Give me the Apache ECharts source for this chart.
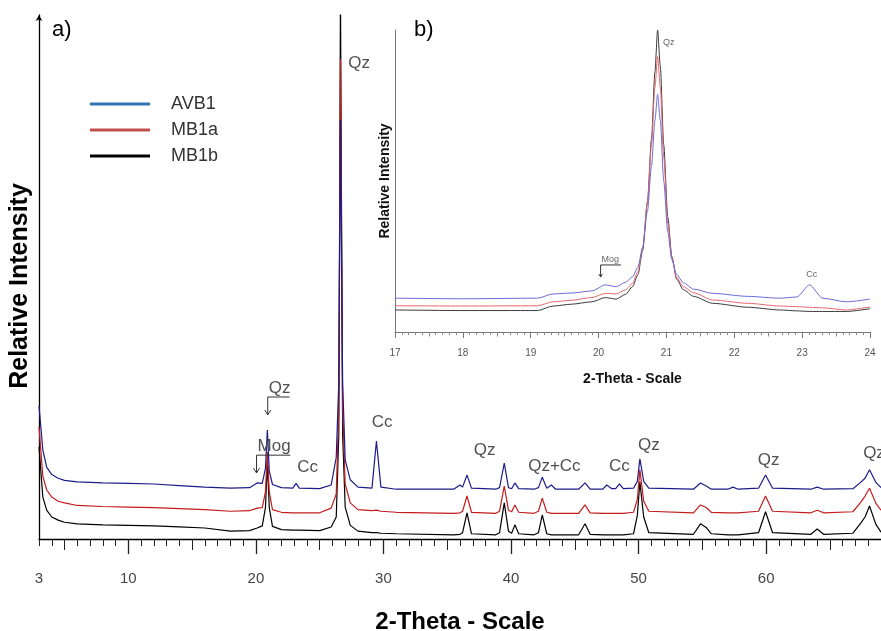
<!DOCTYPE html>
<html>
<head>
<meta charset="utf-8">
<script src="https://cdn.jsdelivr.net/npm/echarts@6/dist/echarts.min.js"></script>
<style>
  html, body { margin: 0; padding: 0; background: #fff; }
  #main { width: 881px; height: 631px; }
</style>
</head>
<body>
<div id="main"></div>
<script>
// main pattern a) : 2-theta positions and relative intensity (offset traces)
const angles = [
  3.0, 3.3, 3.6, 4.0, 4.5, 5.0, 6.0, 8.0, 10.0, 12.0,
  14.0, 16.0, 18.0, 19.5, 20.1, 20.5, 20.75, 20.9, 21.05, 21.3,
  22.0, 22.9, 23.15, 23.4, 25.0, 25.9, 26.3, 26.5, 26.63, 26.8,
  27.0, 27.4, 28.0, 29.1, 29.45, 29.8, 31.0, 35.5, 36.0, 36.2,
  36.55, 36.9, 38.8, 39.1, 39.47, 39.8, 40.05, 40.3, 40.6, 41.8,
  42.15, 42.45, 42.8, 43.16, 43.5, 45.3, 45.8, 46.2, 47.2, 47.5,
  47.9, 48.2, 48.5, 48.8, 49.6, 49.9, 50.1, 50.4, 50.8, 54.3,
  54.85, 55.3, 55.7, 57.0, 57.4, 57.8, 59.4, 59.95, 60.5, 63.5,
  64.0, 64.5, 66.8, 67.4, 67.75, 68.1, 68.6, 69.0
];
const avb1 = [
  25.4, 17.0, 13.7, 12.3, 11.6, 11.2, 10.9, 10.7, 10.6, 10.5,
  10.2, 9.9, 9.7, 9.8, 10.7, 10.6, 13.5, 20.8, 13.0, 10.4,
  9.8, 9.7, 10.6, 9.7, 9.6, 10.3, 15.6, 30.0, 80.0, 30.0,
  15.1, 11.3, 9.9, 9.7, 18.7, 9.9, 9.5, 9.5, 10.3, 9.9,
  12.2, 9.7, 9.5, 9.8, 14.5, 9.8, 9.6, 10.7, 9.6, 9.5,
  9.8, 11.8, 9.7, 10.3, 9.5, 9.5, 10.7, 9.5, 9.5, 10.3,
  9.6, 9.6, 10.5, 9.6, 9.7, 11.0, 15.3, 11.0, 9.7, 9.5,
  10.7, 10.1, 9.5, 9.5, 9.9, 9.5, 9.7, 12.2, 9.7, 9.5,
  9.9, 9.5, 9.6, 10.8, 11.6, 13.2, 10.8, 9.8
];
const mb1a = [
  21.4, 12.0, 9.4, 8.0, 7.2, 6.9, 6.4, 6.2, 6.1, 6.0,
  5.8, 5.6, 5.3, 5.4, 5.9, 6.0, 9.0, 16.6, 9.0, 5.6,
  5.1, 5.0, 5.0, 5.0, 5.0, 5.9, 8.6, 25.0, 91.6, 25.0,
  10.5, 6.9, 5.6, 5.4, 5.5, 5.3, 5.1, 4.9, 5.0, 5.3,
  8.2, 5.1, 4.9, 5.3, 10.1, 5.5, 5.2, 6.5, 5.1, 4.9,
  5.3, 7.8, 5.1, 4.9, 4.9, 4.9, 6.5, 5.0, 4.9, 4.9,
  4.9, 4.9, 4.9, 4.9, 5.1, 7.5, 13.2, 7.2, 5.3, 5.0,
  6.5, 6.0, 5.1, 5.0, 5.0, 5.0, 5.3, 8.2, 5.3, 5.0,
  5.5, 5.0, 5.2, 7.0, 8.2, 9.7, 6.8, 5.5
];
const mb1b = [
  17.6, 8.0, 5.5, 4.2, 3.6, 3.2, 2.9, 2.7, 2.6, 2.5,
  2.3, 2.1, 1.5, 1.6, 2.1, 2.5, 6.0, 14.5, 6.0, 2.4,
  1.8, 1.7, 1.7, 1.7, 1.6, 2.3, 4.2, 20.0, 104, 20.0,
  6.1, 2.6, 1.5, 1.2, 1.2, 1.1, 1.0, 0.8, 0.9, 1.2,
  5.0, 1.0, 0.8, 1.2, 6.9, 1.5, 1.1, 2.7, 1.0, 0.8,
  1.2, 4.6, 1.0, 0.8, 0.8, 0.8, 2.9, 0.9, 0.8, 0.8,
  0.8, 0.8, 0.8, 0.8, 1.0, 4.5, 10.9, 4.2, 1.2, 0.9,
  2.9, 2.2, 1.0, 0.8, 0.8, 0.8, 1.2, 5.2, 1.2, 0.9,
  1.9, 0.9, 1.1, 3.0, 4.2, 6.3, 2.8, 1.3
];

// inset b) : zoom on 17-24 degrees
const insetAngles = [
  17.0, 18.0, 19.1, 19.33, 19.6, 19.9, 20.1, 20.26, 20.4, 20.5,
  20.58, 20.65, 20.72, 20.78, 20.83, 20.87, 20.91, 20.96, 21.02, 21.08,
  21.15, 21.25, 21.4, 21.68, 22.2, 22.67, 22.92, 23.11, 23.3, 23.65,
  24.0
];
const insetAvb1 = [
  11.2, 11.0, 11.2, 12.6, 12.9, 13.6, 15.6, 15.0, 16.5, 18.3,
  21.5, 28.0, 40.0, 55.0, 70.0, 78.7, 70.0, 50.0, 33.0, 24.0,
  19.0, 16.3, 14.2, 12.8, 11.8, 11.2, 11.6, 15.6, 11.2, 10.0,
  10.9
];
const insetMb1a = [
  8.7, 8.6, 8.7, 10.0, 10.5, 11.4, 12.8, 12.6, 14.0, 16.1,
  20.0, 28.0, 43.0, 62.0, 81.0, 91.2, 81.0, 58.0, 36.0, 24.5,
  18.0, 15.0, 13.0, 10.6, 9.5, 8.6, 8.4, 8.2, 8.0, 7.3,
  8.3
];
const insetMb1b = [
  7.3, 7.1, 7.1, 8.6, 9.2, 10.0, 11.4, 10.9, 12.5, 15.0,
  19.0, 27.0, 43.0, 64.0, 86.0, 100, 88.0, 62.0, 38.0, 25.0,
  17.5, 14.0, 11.8, 9.5, 8.2, 7.3, 7.0, 6.8, 6.8, 6.8,
  7.7
];

const mainLabels = [3, 10, 20, 30, 40, 50, 60];
const insetLabels = [17, 18, 19, 20, 21, 22, 23, 24];

// peak labels: [text, 2theta, intensity, align]
const mainNotes = [
  ['Qz', 27.25, 90.8, 'left'],
  ['Cc', 24.06, 13.7, 'center'],
  ['Cc', 29.9, 22.3, 'center'],
  ['Qz', 37.93, 16.9, 'center'],
  ['Qz+Cc', 43.4, 13.9, 'center'],
  ['Cc', 48.5, 13.9, 'center'],
  ['Qz', 50.8, 17.9, 'center'],
  ['Qz', 60.2, 15.1, 'center'],
  ['Qz', 67.6, 16.4, 'left']
];
// bracketed labels: [text, 2theta, textY, underlineY, underlineEnd, arrowTipY]
const mainBrackets = [
  ['Qz', 20.93, 28.8, 27.1, 22.65, 23.7],
  ['Mog', 20.05, 17.6, 16.0, 22.7, 12.6]
];
const insetNotes = [
  ['Qz', 20.95, 96, 'left'],
  ['Cc', 23.14, 19.2, 'center']
];
const insetBrackets = [
  ['Mog', 20.03, 24.0, 22.2, 20.33, 18.2]
];

const zip = (xs, ys) => xs.map((x, i) => [x, ys[i]]);

let longTicks = [], midTicks = [], smallTicks = [];
for (let v = 3; v <= 69; v++) {
  if (v % 10 === 0) longTicks.push(v);
  else if (v % 5 === 0) midTicks.push(v);
  else smallTicks.push(v);
}
let inMajor = [], inMid = [], inMinor = [];
for (let k = 170; k <= 240; k++) {
  let v = k / 10;
  if (k % 10 === 0) inMajor.push(v);
  else if (k % 5 === 0) inMid.push(v);
  else inMinor.push(v);
}

const FONT = 'Liberation Sans, Arial, sans-serif';

function tickAxis(grid, min, max, ticks, len, color) {
  return {
    type: 'value', gridIndex: grid, position: 'bottom', min: min, max: max,
    axisLine: { show: false },
    axisTick: { show: true, customValues: ticks, length: len, lineStyle: { color: color, width: 1 } },
    axisLabel: { show: false },
    splitLine: { show: false }
  };
}

const chart = echarts.init(document.getElementById('main'));

const option = {
  animation: false,
  backgroundColor: '#fff',
  grid: [
    { left: 39, right: 0, top: 15, bottom: 92, outerBoundsMode: 'none' },
    { left: 395, right: 11, top: 30, bottom: 299, outerBoundsMode: 'none' }
  ],
  legend: {
    orient: 'vertical',
    left: 85, top: 86,
    itemWidth: 60, itemHeight: 3, itemGap: 0,
    selectedMode: false,
    textStyle: { fontFamily: FONT, fontSize: 18, color: '#333', lineHeight: 26, padding: [0, 0, 0, 16] },
    data: [
      { name: 'AVB1', icon: 'rect', itemStyle: { color: '#2e75b6' } },
      { name: 'MB1a', icon: 'rect', itemStyle: { color: '#c0504d' } },
      { name: 'MB1b', icon: 'rect', itemStyle: { color: '#000' } }
    ]
  },
  xAxis: [
    {
      type: 'value', gridIndex: 0, position: 'bottom', min: 3, max: 69,
      name: '2-Theta - Scale', nameLocation: 'middle', nameGap: 71,
      nameTextStyle: { fontFamily: FONT, fontSize: 24, fontWeight: 'bold', color: '#000' },
      axisLine: { lineStyle: { color: '#000', width: 1.3 } },
      axisTick: { customValues: longTicks, length: 15, lineStyle: { color: '#222', width: 1.3 } },
      axisLabel: { customValues: mainLabels, margin: 32, fontFamily: FONT, fontSize: 15, color: '#444' },
      splitLine: { show: false }
    },
    tickAxis(0, 3, 69, midTicks, 11, '#222'),
    tickAxis(0, 3, 69, smallTicks, 7, '#222'),
    {
      type: 'value', gridIndex: 1, position: 'bottom', min: 17, max: 24,
      name: '2-Theta - Scale', nameLocation: 'middle', nameGap: 40,
      nameTextStyle: { fontFamily: FONT, fontSize: 14, fontWeight: 'bold', color: '#111' },
      axisLine: { lineStyle: { color: '#777', width: 1 } },
      axisTick: { customValues: inMajor, length: 6, lineStyle: { color: '#777' } },
      axisLabel: { customValues: insetLabels, margin: 16, fontFamily: FONT, fontSize: 10, color: '#555' },
      splitLine: { show: false }
    },
    tickAxis(1, 17, 24, inMid, 4.5, '#888'),
    tickAxis(1, 17, 24, inMinor, 3, '#888')
  ],
  yAxis: [
    {
      type: 'value', gridIndex: 0, min: 0, max: 100,
      name: 'Relative Intensity', nameLocation: 'middle', nameGap: 6,
      nameTextStyle: { fontFamily: FONT, fontSize: 25, fontWeight: 'bold', color: '#000', padding: [0, 18, 0, 0] },
      axisLine: { show: true, symbol: ['none', 'arrow'], symbolSize: [5, 6], lineStyle: { color: '#000', width: 1.3 } },
      axisTick: { show: false }, axisLabel: { show: false }, splitLine: { show: false }
    },
    {
      type: 'value', gridIndex: 1, min: 0, max: 100,
      name: 'Relative Intensity', nameLocation: 'middle', nameGap: 3,
      nameTextStyle: { fontFamily: FONT, fontSize: 14, fontWeight: 'bold', color: '#111' },
      axisLine: { show: true, lineStyle: { color: '#777', width: 1 } },
      axisTick: { show: false }, axisLabel: { show: false }, splitLine: { show: false }
    }
  ],
  series: [
    { name: 'MB1b', type: 'line', xAxisIndex: 0, yAxisIndex: 0, data: zip(angles, mb1b),
      showSymbol: false, lineStyle: { color: '#000', width: 1.2 }, itemStyle: { color: '#000' } },
    { name: 'MB1a', type: 'line', xAxisIndex: 0, yAxisIndex: 0, data: zip(angles, mb1a),
      showSymbol: false, lineStyle: { color: '#c41c1c', width: 1.2 }, itemStyle: { color: '#c41c1c' } },
    { name: 'AVB1', type: 'line', xAxisIndex: 0, yAxisIndex: 0, data: zip(angles, avb1),
      showSymbol: false, lineStyle: { color: '#1c1c88', width: 1.2 }, itemStyle: { color: '#1c1c88' } },
    { name: 'inset MB1b', type: 'line', xAxisIndex: 3, yAxisIndex: 1, data: zip(insetAngles, insetMb1b),
      showSymbol: false, smooth: 0.25, smoothMonotone: 'x', lineStyle: { color: '#3a3a3a', width: 1 } },
    { name: 'inset MB1a', type: 'line', xAxisIndex: 3, yAxisIndex: 1, data: zip(insetAngles, insetMb1a),
      showSymbol: false, smooth: 0.25, smoothMonotone: 'x', lineStyle: { color: '#e8676b', width: 1 } },
    { name: 'inset AVB1', type: 'line', xAxisIndex: 3, yAxisIndex: 1, data: zip(insetAngles, insetAvb1),
      showSymbol: false, smooth: 0.25, smoothMonotone: 'x', lineStyle: { color: '#6b6bdc', width: 1 } }
  ]
};

chart.setOption(option);

// annotations placed through the axes' own scales
function textEl(txt, p, size, align, color) {
  return {
    type: 'text', x: p[0], y: p[1], z: 50,
    style: { text: txt, fill: color, font: size + 'px ' + FONT,
      align: align, textAlign: align, verticalAlign: 'middle', textVerticalAlign: 'middle' }
  };
}
function bracketEls(b, seriesIndex, size, color, head) {
  const conv = (x, y) => chart.convertToPixel({ seriesIndex: seriesIndex }, [x, y]);
  const t = conv(b[1], b[2]);
  const u0 = conv(b[1], b[3]);
  const u1 = conv(b[4], b[3]);
  const tip = conv(b[1], b[5]);
  return [
    textEl(b[0], [u0[0] + 1, t[1]], size, 'left', color),
    { type: 'polyline', z: 50, shape: { points: [u1, u0, tip] }, style: { stroke: '#333', lineWidth: 1, fill: null } },
    { type: 'polyline', z: 50, shape: { points: [[tip[0] - head, tip[1] - head * 1.6], tip, [tip[0] + head, tip[1] - head * 1.6]] },
      style: { stroke: '#333', lineWidth: 1, fill: null } }
  ];
}

let els = [
  { type: 'text', left: 52, top: 19, z: 50, style: { text: 'a)', fill: '#000', font: '22px ' + FONT } },
  { type: 'text', left: 414, top: 19, z: 50, style: { text: 'b)', fill: '#000', font: '22px ' + FONT } }
];
mainNotes.forEach(n => {
  els.push(textEl(n[0], chart.convertToPixel({ seriesIndex: 0 }, [n[1], n[2]]), 17, n[3], '#505050'));
});
mainBrackets.forEach(b => { els = els.concat(bracketEls(b, 0, 17, '#505050', 3)); });
insetNotes.forEach(n => {
  els.push(textEl(n[0], chart.convertToPixel({ seriesIndex: 3 }, [n[1], n[2]]), 9, n[3], '#666'));
});
insetBrackets.forEach(b => { els = els.concat(bracketEls(b, 3, 9, '#666', 1.8)); });

chart.setOption({ graphic: els });
</script>
</body>
</html>
